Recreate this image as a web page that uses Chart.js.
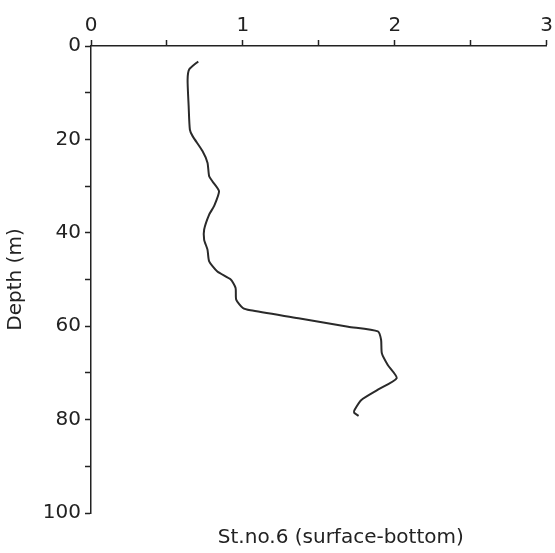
<!DOCTYPE html>
<html lang="en">
<head>
    <meta charset="UTF-8">
    <title>St.no.6 profile</title>
    <script src="https://cdn.jsdelivr.net/npm/chart.js"></script>
    <style>
        html, body { margin: 0; padding: 0; background: #fff; }
        #wrap { width: 555px; height: 553px; }
    </style>
</head>
<body>
    <div id="wrap"><canvas id="profileChart" width="555" height="553"></canvas></div>

    <script>
// Profile: depth (m) and value at that depth
const depths = [3.3, 5.0, 7.2, 12.9, 17.9, 19.3, 22.5, 25.0, 27.9, 29.0, 31.1, 34.3, 36.1, 39.3, 41.5, 43.6, 46.1, 48.3, 50.0, 51.8, 54.3, 56.1, 56.6, 58.3, 60.1, 61.1, 62.9, 65.8, 68.3, 71.1, 73.6, 75.8, 77.9, 78.5, 79.2];
const values = [0.706, 0.647, 0.636, 0.643, 0.651, 0.669, 0.734, 0.767, 0.778, 0.80, 0.843, 0.81, 0.778, 0.745, 0.745, 0.767, 0.778, 0.832, 0.92, 0.952, 0.956, 1.0, 1.05, 1.366, 1.693, 1.889, 1.91, 1.915, 1.954, 2.013, 1.889, 1.78, 1.736, 1.732, 1.762];

const xLabels = [0, 1, 2, 3];
const yLabels = [0, 20, 40, 60, 80, 100];
const xTitle = 'St.no.6 (surface-bottom)';
const yTitle = 'Depth (m)';

const ink = '#222';
const font = { family: 'DejaVu Sans', size: 20 };

// caption sits under the plot, a bit right of centre
const bottomCaption = {
    id: 'bottomCaption',
    afterDraw(chart) {
        const { ctx, chartArea } = chart;
        ctx.save();
        ctx.fillStyle = ink;
        ctx.font = '20px "DejaVu Sans"';
        ctx.textAlign = 'center';
        ctx.textBaseline = 'middle';
        ctx.fillText(xTitle, (chartArea.left + chartArea.right) / 2 + 22, 538);
        ctx.restore();
    }
};

const ctx = document.getElementById('profileChart').getContext('2d');
new Chart(ctx, {
    type: 'scatter',
    data: {
        datasets: [{
            data: depths.map((d, i) => ({ x: values[i], y: d })),
            showLine: true,
            borderColor: '#2a2a2a',
            borderWidth: 2,
            pointRadius: 0,
            tension: 0.2
        }]
    },
    options: {
        responsive: false,
        animation: false,
        layout: { padding: { left: 0, right: 6, top: 0, bottom: 40 } },
        plugins: { legend: { display: false }, tooltip: { enabled: false } },
        scales: {
            x: {
                position: 'top',
                min: 0,
                max: 3,
                afterFit: s => { s.height = 46; },
                ticks: {
                    stepSize: 0.5,
                    autoSkip: false,
                    maxRotation: 0,
                    color: ink,
                    font: font,
                    padding: 2,
                    callback: v => xLabels.includes(v) ? String(v) : ''
                },
                grid: { drawOnChartArea: false, tickLength: 6, color: ink, tickWidth: 1.5 },
                border: { color: ink, width: 1.5 }
            },
            y: {
                reverse: true,
                min: 0,
                max: 100,
                afterFit: s => { s.width = 91; },
                ticks: {
                    stepSize: 10,
                    autoSkip: false,
                    color: ink,
                    font: font,
                    padding: 4,
                    callback: v => yLabels.includes(v) ? String(v) : ''
                },
                title: { display: true, text: yTitle, color: ink, font: font },
                grid: { drawOnChartArea: false, tickLength: 6, color: ink, tickWidth: 1.5 },
                border: { color: ink, width: 1.5 }
            }
        }
    },
    plugins: [bottomCaption]
});
    </script>
</body>
</html>
